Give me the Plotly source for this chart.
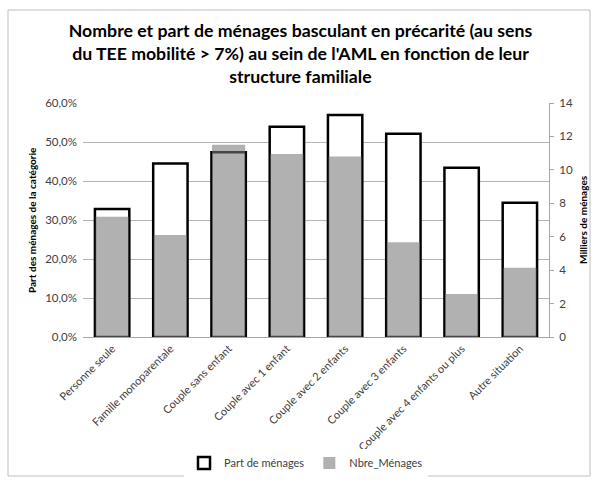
import plotly.graph_objects as go

categories = ["Personne seule", "Famille monoparentale", "Couple sans enfant",
              "Couple avec 1 enfant", "Couple avec 2 enfants", "Couple avec 3 enfants",
              "Couple avec 4 enfants ou plus", "Autre situation"]
part_menages = [0.328, 0.445, 0.474, 0.539, 0.569, 0.521, 0.434, 0.344]
nbre_menages = [7.2, 6.1, 11.5, 10.95, 10.8, 5.67, 2.57, 4.15]

left_ticks = [0, 0.1, 0.2, 0.3, 0.4, 0.5, 0.6]
right_ticks = [0, 2, 4, 6, 8, 10, 12, 14]

FONT = "Lato, 'Open Sans', sans-serif"
PL, PR, PT, PB = 83, 549, 103, 337
PW, PH = PR - PL, PB - PT


def px_x(x):
    return (x - PL) / PW


def px_y(y):
    return (PB - y) / PH


fig = go.Figure()
fig.add_trace(go.Bar(
    x=categories, y=part_menages, name="Part de ménages",
    marker=dict(color="white", line=dict(color="black", width=2.5)),
    width=0.59, yaxis="y"))
fig.add_trace(go.Bar(
    x=categories, y=nbre_menages, name="Nbre_Ménages",
    marker=dict(color="rgba(120,120,120,0.58)", line=dict(width=0)),
    width=0.57, yaxis="y2"))

fig.update_layout(
    width=595, height=483,
    margin=dict(l=PL, r=595 - PR, t=PT, b=483 - PB, autoexpand=False),
    paper_bgcolor="white", plot_bgcolor="white",
    separators=", ",
    barmode="overlay",
    font=dict(family=FONT, size=10, color="#404040"),
    title=dict(
        text="<b>Nombre et part de ménages basculant en précarité (au sens<br>du TEE mobilité > 7%) au sein de l'AML en fonction de leur<br>structure familiale</b>",
        x=0.505, xanchor="center", y=1 - 37 / 483, yanchor="top",
        font=dict(family=FONT, size=17.7, color="black")),
    xaxis=dict(tickangle=-45, showgrid=False, showline=True, linecolor="#a6a6a6",
               linewidth=1, ticks="", tickfont=dict(size=11, color="#404040")),
    yaxis=dict(range=[0, 0.6], tickvals=left_ticks, tickformat=".1%",
               showgrid=True, gridcolor="#b3b3b3", gridwidth=1, zeroline=False,
               showline=False, ticks="", tickfont=dict(size=11.5), ticklabelstandoff=5),
    yaxis2=dict(range=[0, 14], tickvals=right_ticks, overlaying="y", side="right",
                showgrid=False, zeroline=False, showline=True, linecolor="#a6a6a6",
                ticks="outside", ticklen=4, tickcolor="#a6a6a6", tickfont=dict(size=11.5),
                ticklabelstandoff=3),
    legend=dict(orientation="h", x=px_x(306), xanchor="center", y=px_y(463), yanchor="middle",
                font=dict(size=11, color="#404040"), traceorder="normal",
                itemwidth=30),
    bargap=0.4,
    annotations=[
        dict(text="<b>Part des ménages de la catégorie</b>", textangle=-90,
             xref="paper", yref="paper", x=px_x(32), y=px_y(220),
             xanchor="center", yanchor="middle", showarrow=False,
             font=dict(size=10, color="black")),
        dict(text="<b>Milliers de ménages</b>", textangle=-90,
             xref="paper", yref="paper", x=px_x(583), y=px_y(220),
             xanchor="center", yanchor="middle", showarrow=False,
             font=dict(size=10, color="black")),
    ],
    shapes=[dict(type="rect", xref="paper", yref="paper",
                 x0=px_x(8), x1=px_x(590), y0=px_y(476), y1=px_y(10),
                 line=dict(color="#bfbfbf", width=1), fillcolor="rgba(0,0,0,0)",
                 layer="above")],
)

fig.write_html("out.html", config={"displayModeBar": False},
               post_script="document.body.style.margin='0';document.body.style.overflow='hidden';")
